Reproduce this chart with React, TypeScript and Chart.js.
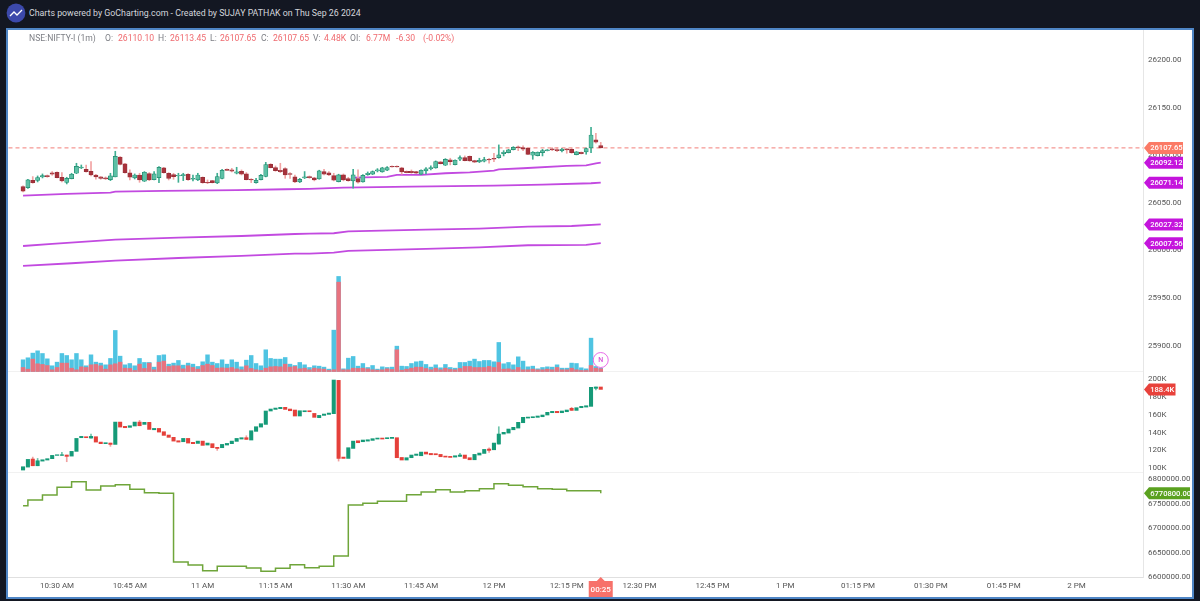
import React, { useEffect, useRef } from "react";
import { Chart, registerables } from "chart.js";

Chart.register(...registerables);

const FONT = 'Roboto, sans-serif';
const START_MINUTE = 623; // 10:23, one candle per minute

const opens = [
  26067.0,26066.0,26073.6,26073.6,26077.2,26078.6,26081.4,26082.1,26076.8,26071.5,
  26075.4,26081.0,26086.6,26085.2,26083.1,26079.2,26077.2,26076.1,26074.4,26077.2,
  26098.1,26090.8,26081.4,26076.1,26079.2,26072.6,26080.6,26074.4,26076.4,26086.6,
  26081.0,26079.6,26078.2,26078.6,26080.0,26074.7,26074.0,26076.8,26071.5,26073.3,
  26070.8,26075.7,26085.2,26084.5,26081.0,26083.1,26080.3,26074.7,26071.2,26074.4,
  26077.8,26090.4,26086.9,26084.1,26085.9,26080.6,26077.2,26071.9,26076.1,26077.5,
  26076.1,26075.1,26082.8,26081.4,26078.6,26072.3,26079.3,26075.4,26073.0,26075.4,
  26071.9,26079.6,26080.0,26083.5,26082.4,26084.2,26088.4,26088.4,26086.6,26083.1,
  26083.1,26082.8,26080.0,26083.5,26085.9,26086.6,26092.9,26089.4,26095.0,26090.1,
  26095.7,26097.5,26098.9,26094.3,26092.9,26093.6,26095.7,26096.8,26097.5,26101.7,
  26102.7,26105.9,26108.7,26107.9,26107.2,26099.9,26099.6,26102.7,26104.8,26106.6,
  26105.9,26104.8,26106.6,26106.2,26100.6,26103.1,26103.4,26107.6,26116.0,26110.1,
];
const highs = [
  26067.7,26074.7,26077.5,26078.2,26080.3,26079.2,26082.8,26082.4,26081.7,26076.8,
  26081.0,26091.5,26089.7,26089.7,26093.2,26079.9,26077.5,26077.2,26081.0,26104.1,
  26098.5,26091.5,26084.5,26080.3,26081.0,26082.8,26081.7,26082.8,26088.0,26087.3,
  26081.7,26081.0,26081.0,26081.0,26080.6,26079.2,26081.0,26077.2,26074.0,26073.6,
  26081.0,26085.2,26085.6,26086.2,26087.3,26084.5,26081.7,26075.4,26075.7,26080.0,
  26092.5,26091.1,26088.7,26091.5,26086.9,26081.7,26079.2,26075.7,26082.8,26078.2,
  26076.8,26084.2,26085.2,26082.8,26081.0,26080.0,26080.3,26076.8,26085.2,26084.5,
  26079.6,26082.4,26083.5,26085.9,26087.3,26088.0,26088.7,26088.7,26087.3,26083.5,
  26084.5,26083.1,26084.5,26087.0,26088.7,26094.0,26093.3,26096.4,26096.8,26095.0,
  26099.2,26099.2,26099.2,26094.7,26096.8,26097.8,26096.8,26102.0,26110.8,26104.8,
  26106.2,26109.0,26109.7,26109.7,26107.6,26103.8,26103.4,26106.2,26105.9,26107.9,
  26108.3,26107.2,26106.9,26107.2,26103.8,26103.4,26107.6,26129.3,26123.0,26113.45,
];
const lows = [
  26061.4,26065.2,26070.5,26071.9,26076.1,26076.8,26078.9,26076.1,26071.9,26069.8,
  26075.1,26080.6,26085.9,26082.1,26078.2,26074.7,26074.7,26074.4,26073.3,26077.2,
  26089.7,26081.0,26074.0,26075.0,26071.5,26072.3,26073.3,26074.0,26071.2,26081.0,
  26074.0,26074.7,26071.5,26073.3,26073.6,26072.9,26073.3,26070.5,26070.1,26070.8,
  26070.1,26075.0,26083.8,26082.4,26080.3,26079.2,26074.0,26071.2,26070.5,26074.0,
  26077.2,26086.6,26083.1,26081.7,26075.7,26075.7,26071.2,26071.2,26075.4,26075.7,
  26073.0,26074.7,26079.3,26078.6,26073.0,26071.9,26073.0,26072.6,26065.3,26070.5,
  26071.6,26078.9,26079.6,26082.4,26082.1,26083.8,26087.3,26087.3,26080.0,26081.4,
  26081.0,26080.7,26079.6,26080.3,26084.5,26086.3,26090.8,26089.1,26089.8,26089.8,
  26094.3,26094.0,26093.6,26092.2,26092.2,26092.9,26091.5,26093.3,26096.8,26099.2,
  26102.4,26105.5,26104.8,26104.8,26100.6,26095.7,26099.2,26099.2,26104.5,26104.8,
  26103.8,26103.4,26102.0,26102.0,26100.3,26101.3,26101.0,26102.7,26112.5,26107.65,
];
const closes = [
  26062.1,26074.0,26071.2,26076.4,26078.6,26077.5,26080.0,26076.4,26072.9,26075.7,
  26080.0,26088.3,26087.6,26082.8,26079.2,26077.2,26075.7,26075.0,26078.2,26098.8,
  26090.4,26081.7,26076.8,26079.2,26074.0,26082.1,26074.0,26080.3,26087.3,26081.7,
  26075.7,26077.5,26078.9,26079.6,26074.4,26075.7,26079.2,26071.2,26070.8,26071.2,
  26077.5,26084.1,26084.1,26083.1,26082.4,26080.0,26074.4,26074.0,26073.6,26078.9,
  26090.1,26086.9,26083.8,26082.8,26079.2,26079.9,26071.9,26074.7,26077.2,26076.4,
  26074.0,26083.5,26080.0,26079.3,26073.7,26079.3,26074.0,26073.3,26079.3,26071.6,
  26078.9,26081.0,26082.8,26084.5,26086.6,26087.0,26087.7,26087.7,26082.4,26081.7,
  26081.7,26081.0,26084.2,26085.6,26087.0,26093.3,26091.2,26095.7,26093.3,26094.7,
  26097.5,26094.3,26094.0,26092.6,26094.7,26095.4,26095.0,26095.7,26100.3,26103.1,
  26105.5,26108.3,26107.9,26106.2,26100.9,26103.1,26103.1,26104.8,26105.5,26105.5,
  26104.8,26106.2,26105.5,26102.7,26103.4,26101.7,26106.9,26121.2,26113.6,26107.65,
];

const volumeTotal = [
  15.8,18.5,24.8,27.9,24.3,17.1,7.7,12.6,24.3,21.6,15.8,24.3,15.8,7.7,22.5,12.6,11.3,9.0,17.6,55.4,
  20.7,9.0,10.8,7.7,17.6,12.2,12.2,5.9,21.6,22.5,9.9,11.3,14.9,8.6,11.3,9.9,6.8,13.1,22.5,12.6,
  10.8,15.8,9.9,15.8,12.6,6.3,15.3,21.6,10.8,7.7,29.3,17.6,16.7,16.7,18.9,9.9,8.1,12.2,9.0,5.4,
  7.7,7.2,5.9,3.2,55.8,128.3,3.6,18.0,20.3,7.2,10.8,5.4,8.1,3.2,6.3,5.4,5.9,34.2,7.2,6.8,
  10.8,13.1,14.0,9.5,5.9,9.0,5.0,9.5,5.4,4.5,12.2,12.2,14.0,16.7,13.5,14.9,14.9,13.1,39.2,10.4,
  12.2,9.0,19.8,14.0,6.3,7.2,3.6,5.4,6.3,5.9,9.0,4.5,4.5,11.3,10.8,5.0,3.6,45.0,6.8,4.48,
];
const volumeRed = [
  5.4,3.2,16.7,10.4,9.5,8.1,2.3,5.4,11.3,11.3,4.5,2.3,6.3,5.4,9.0,9.5,7.7,3.2,9.0,10.4,
  12.6,4.5,4.1,1.4,9.9,4.1,11.3,2.3,12.6,14.0,6.8,7.7,7.7,3.6,7.7,5.4,3.2,8.1,9.9,8.1,
  4.5,5.0,4.5,5.4,3.6,2.3,7.7,4.1,2.3,1.4,4.5,6.3,6.8,6.3,9.9,5.9,6.8,3.6,4.5,2.3,
  4.5,3.6,3.2,1.4,2.3,120.6,2.3,2.3,4.5,4.1,4.5,3.6,2.3,1.8,2.3,3.6,2.7,29.3,1.8,3.2,
  4.5,5.9,5.9,4.1,2.3,4.5,2.3,4.5,2.7,2.3,4.1,6.8,6.8,5.4,5.4,5.4,6.8,5.4,12.2,3.2,
  3.6,2.3,5.4,2.3,2.3,3.2,2.3,2.3,3.2,2.3,5.4,2.3,2.3,4.5,2.3,1.4,1.4,8.1,4.5,3.6,
];

const deltaOpens = [
  98.1,101.4,110.4,102.9,108.1,109.3,110.8,114.5,114.5,114.9,113.7,119.0,134.3,135.4,133.9,135.4,129.4,127.6,128.3,126.8,
  151.8,147.0,145.9,147.4,151.8,149.2,151.5,143.2,144.7,141.0,137.3,134.7,130.9,129.8,133.5,129.1,127.9,130.5,126.1,127.6,
  123.5,123.1,126.1,127.6,130.2,132.8,134.3,131.7,141.4,146.2,149.2,164.2,166.0,166.8,168.3,166.4,165.3,158.6,163.4,164.5,
  161.5,156.7,159.3,160.4,161.2,198.5,112.6,111.1,122.3,130.9,129.8,130.5,131.3,132.8,133.9,133.2,133.5,134.3,112.2,109.3,
  111.9,114.5,114.1,118.2,116.7,116.4,115.6,113.7,113.4,112.6,113.4,114.9,111.9,109.6,114.9,116.7,121.6,120.8,127.2,138.4,
  139.5,143.2,145.1,151.1,156.3,156.7,157.1,157.8,159.7,162.3,163.8,162.3,163.4,167.2,164.9,167.9,168.6,169.4,189.6,191.1,
];
const deltaCloses = [
  101.8,110.0,102.9,108.5,109.6,110.8,114.5,115.2,115.2,113.4,119.0,133.5,135.8,134.3,135.8,129.4,127.6,128.7,126.8,151.8,
  146.2,145.5,147.7,151.8,147.7,151.5,143.6,144.7,140.6,136.9,134.7,130.5,129.4,133.5,128.3,127.6,130.5,125.7,128.3,123.1,
  122.3,126.8,127.9,130.5,133.5,134.3,132.4,142.1,146.6,150.0,164.2,166.4,167.5,168.3,166.0,164.5,158.6,164.5,164.5,163.4,
  157.1,159.3,160.8,161.9,198.9,111.1,111.1,123.1,130.5,128.7,131.7,132.0,133.2,133.9,132.8,134.3,134.7,111.9,109.3,111.9,
  114.9,116.0,118.2,116.0,115.2,115.2,113.0,112.6,112.2,114.1,114.9,111.1,109.6,115.6,117.1,121.2,120.1,128.3,138.4,140.3,
  144.0,145.9,151.5,157.1,157.4,157.8,158.6,159.7,162.7,163.8,162.3,164.2,165.3,164.9,167.9,169.4,170.1,190.7,191.1,188.4,
];
// visible wicks only: [candle index, low, high]
const deltaWicks = [
  [2,102.9,112.6],[3,102.9,111.1],[8,114.5,117.8],[9,107.4,114.9],[14,133.9,138.4],[18,124.6,128.3],
  [24,147.7,153.7],[40,120.1,123.5],[46,132.4,136.5],[65,108.1,198.5],[90,113.4,116.7],[96,117.8,123.1],
  [98,127.2,146.6],[113,164.9,168.3],[118,187.7,191.1],
];

const oiStepIndex = [0,1,4,7,10,13,16,19,22,25,28,31,34,37,40,46,49,52,55,58,61,64,67,70,73,79,82,85,88,91,94,97,100,103,106,109,112,119];
const oiStepValues = [
  6745600,6757150,6767350,6783000,6794550,6777550,6785700,6788450,6778900,6772100,6770750,6630600,6624500,6612900,
  6621800,6618350,6611550,6617700,6625150,6619050,6621800,6642850,6746950,6750350,6754400,6768000,6773450,6778200,
  6773450,6776200,6780250,6790500,6787100,6784350,6780250,6778900,6776200,6770800,
];

const ma1Index = [68,75,77,82,87,92,97,98,103,112,116,118,119];
const ma1Values = [26076.5,26077.2,26079.3,26079.3,26081.0,26082.0,26083.8,26085.2,26086.3,26088.7,26089.4,26091.5,26092.12];
const ma2Index = [0,9,18,19,29,44,54,59,66,80,97,107,117,119];
const ma2Values = [26057.5,26059.3,26060.7,26061.7,26062.5,26063.2,26064.2,26064.7,26065.9,26067.0,26068.1,26069.1,26070.5,26071.14];
const ma3Index = [0,6,19,32,45,56,59,64,67,83,94,104,113,119];
const ma3Values = [26004.6,26006.8,26011.3,26013.4,26015.1,26017.2,26017.6,26018.0,26020.0,26021.8,26022.9,26025.0,26025.6,26027.32];
const ma4Index = [0,10,19,32,45,56,59,64,67,83,94,104,116,119];
const ma4Values = [25983.7,25986.5,25989.2,25992.0,25994.2,25996.6,25996.6,25997.7,25999.4,26001.5,26003.2,26005.4,26005.7,26007.56];

const xTickMinutes = [630,645,660,675,690,705,720,735,750,765,780,795,810,825,840];
const xTickLabels = ["10:30 AM","10:45 AM","11 AM","11:15 AM","11:30 AM","11:45 AM","12 PM","12:15 PM","12:30 PM","12:45 PM","1 PM","01:15 PM","01:30 PM","01:45 PM","2 PM"];
const priceTicks = [26200,26150,26100,26050,26000,25950,25900];
const deltaTicks = [200,180,160,140,120,100];
const oiTicks = [6800000,6750000,6700000,6650000,6600000];

const LAST_PRICE = 26107.65;
const COUNTDOWN = "00:25";
const priceTags: [number, string][] = [
  [26092.12, "#c414dc"], [26071.14, "#c414dc"], [26027.32, "#c414dc"], [26007.56, "#c414dc"],
];
const LAST_DELTA = 188.4;
const LAST_OI = 6770800;
const NEWS_MARKER_VOLUME = 15.5;

const quoteParts: [string, boolean, number][] = [
  ["NSE:NIFTY-I (1m)", false, 29], ["O:", false, 105], ["26110.10", true, 118],
  ["H:", false, 158], ["26113.45", true, 170], ["L:", false, 210], ["26107.65", true, 220],
  ["C:", false, 261], ["26107.65", true, 273], ["V:", false, 313], ["4.48K", true, 324],
  ["OI:", false, 350], ["6.77M", true, 366], ["-6.30", true, 396], ["(-0.02%)", true, 423],
];

const minuteOf = (i: number) => START_MINUTE + i;
const UP_BODY = "#5cc0a5", UP_EDGE = "#1f8a6e", DOWN_BODY = "#a8323b", DOWN_EDGE = "#96303a";
const UP_WICK = "#3fae92", DOWN_WICK = "#f2a3a3";
const MA_COLOR = "#c24ae0";

function tag(ctx: CanvasRenderingContext2D, tipX: number, y: number, w: number, color: string, text: string) {
  const h = 12, arrow = 5;
  ctx.fillStyle = color;
  ctx.beginPath();
  ctx.moveTo(tipX, y);
  ctx.lineTo(tipX + arrow, y - h / 2);
  ctx.lineTo(tipX + arrow + w, y - h / 2);
  ctx.lineTo(tipX + arrow + w, y + h / 2);
  ctx.lineTo(tipX + arrow, y + h / 2);
  ctx.closePath();
  ctx.fill();
  ctx.fillStyle = "#ffffff";
  ctx.textAlign = "left";
  ctx.textBaseline = "middle";
  ctx.font = `500 7.6px ${FONT}`;
  ctx.fillText(text, tipX + arrow + 1.2, y + 0.5);
}

const overlayPlugin = {
  id: "overlay",
  beforeDatasetsDraw(chart: any) {
    const { ctx, chartArea: a, scales: s } = chart;
    ctx.save();
    ctx.strokeStyle = "#f1f1f1";
    ctx.lineWidth = 1;
    [s.yPrice.bottom, s.yDelta.bottom].forEach((y: number) => {
      ctx.beginPath();
      ctx.moveTo(a.left, Math.round(y) + 0.5);
      ctx.lineTo(a.right, Math.round(y) + 0.5);
      ctx.stroke();
    });
    ctx.restore();
  },
  afterDraw(chart: any) {
    const { ctx, scales: s } = chart;
    const tip = s.yPrice.left + 1;
    ctx.save();
    tag(ctx, tip, s.yPrice.getPixelForValue(LAST_PRICE), 34, "#fb7a66", LAST_PRICE.toFixed(2));
    priceTags.forEach(([v, c]) => tag(ctx, tip, s.yPrice.getPixelForValue(v), 34, c, v.toFixed(2)));
    tag(ctx, tip, s.yDelta.getPixelForValue(LAST_DELTA), 26.5, "#e8413b", LAST_DELTA.toFixed(1) + "K");
    tag(ctx, tip, s.yOi.getPixelForValue(LAST_OI), 41, "#5aa11f", LAST_OI.toFixed(2));

    // news marker
    const lastX = s.x.getPixelForValue(minuteOf(closes.length - 1));
    const ny = s.yVolume.getPixelForValue(NEWS_MARKER_VOLUME);
    ctx.beginPath();
    ctx.arc(lastX, ny, 7.5, 0, Math.PI * 2);
    ctx.fillStyle = "rgba(255,255,255,0.9)";
    ctx.fill();
    ctx.strokeStyle = "#e86be8";
    ctx.lineWidth = 1;
    ctx.stroke();
    ctx.fillStyle = "#d84fd8";
    ctx.font = `500 7px ${FONT}`;
    ctx.textAlign = "center";
    ctx.textBaseline = "middle";
    ctx.fillText("N", lastX, ny + 0.5);

    // countdown box under the last candle
    const top = s.x.top;
    ctx.fillStyle = "#f7716a";
    ctx.beginPath();
    ctx.moveTo(lastX, top);
    ctx.lineTo(lastX + 4, top + 4);
    ctx.lineTo(lastX + 12, top + 4);
    ctx.lineTo(lastX + 12, top + 20);
    ctx.lineTo(lastX - 12, top + 20);
    ctx.lineTo(lastX - 12, top + 4);
    ctx.lineTo(lastX - 4, top + 4);
    ctx.closePath();
    ctx.fill();
    ctx.fillStyle = "#ffffff";
    ctx.font = `500 8px ${FONT}`;
    ctx.fillText(COUNTDOWN, lastX, top + 12.5);
    ctx.restore();
  },
};

const xy = (idx: number[], vals: number[]) => idx.map((i, k) => ({ x: minuteOf(i), y: vals[k] }));

export default function App() {
  const ref = useRef<HTMLCanvasElement>(null);

  useEffect(() => {
    document.body.style.margin = "0";
    const isUp = closes.map((c, i) => c >= opens[i]);
    const deltaUp = deltaCloses.map((c, i) => c >= deltaOpens[i]);
    const maLine = (idx: number[], vals: number[]) => ({
      type: "line" as const, data: xy(idx, vals), yAxisID: "yPrice", xAxisID: "x",
      borderColor: MA_COLOR, borderWidth: 1.8, pointRadius: 0, tension: 0, order: 80,
    });
    const yFont = { family: FONT, size: 8 };
    const yScale = (weight: number, min: number, max: number, values: number[], fmt: (v: number) => string) => ({
      type: "linear" as const, axis: "y", position: "right" as const, min, max,
      stack: "panes", stackWeight: weight,
      grid: { display: false, drawTicks: false, tickLength: 0 },
      border: { display: true, color: "#e6e6e6" },
      afterBuildTicks: (axis: any) => { axis.ticks = values.map((value) => ({ value })); },
      afterFit: (axis: any) => {
        axis.width = 49;
        axis.paddingTop = 0;
        axis.paddingBottom = 0;
      },
      ticks: { autoSkip: false, font: yFont, color: "#555", padding: 5, callback: (v: any) => fmt(Number(v)) },
    });

    const chart = new Chart(ref.current as HTMLCanvasElement, {
      type: "bar",
      data: {
        datasets: [
          {
            data: opens.map((o, i) => ({ x: minuteOf(i), y: [o, closes[i]] })), yAxisID: "yPrice", xAxisID: "x",
            backgroundColor: isUp.map((u) => (u ? UP_BODY : DOWN_BODY)),
            borderColor: isUp.map((u) => (u ? UP_EDGE : DOWN_EDGE)),
            borderWidth: 0.7, borderSkipped: false, barThickness: 4.2, grouped: false, order: 40,
          },
          {
            data: lows.map((l, i) => ({ x: minuteOf(i), y: [l, highs[i]] })), yAxisID: "yPrice", xAxisID: "x",
            backgroundColor: isUp.map((u) => (u ? UP_WICK : DOWN_WICK)),
            barThickness: 1, grouped: false, order: 50,
          },
          maLine(ma1Index, ma1Values),
          maLine(ma2Index, ma2Values),
          maLine(ma3Index, ma3Values),
          maLine(ma4Index, ma4Values),
          {
            type: "line", data: [{ x: 620, y: LAST_PRICE }, { x: 854, y: LAST_PRICE }], yAxisID: "yPrice", xAxisID: "x",
            borderColor: "#f27d78", borderWidth: 1, borderDash: [4, 3], pointRadius: 0, order: 85,
          },
          {
            data: volumeRed.map((v, i) => ({ x: minuteOf(i), y: v })), yAxisID: "yVolume", xAxisID: "x",
            backgroundColor: "#e8737f", barThickness: 3.8, grouped: false, order: 90,
          },
          {
            data: volumeTotal.map((v, i) => ({ x: minuteOf(i), y: v })), yAxisID: "yVolume", xAxisID: "x",
            backgroundColor: "#4fc4e2", barThickness: 3.8, grouped: false, order: 95,
          },
          {
            data: deltaOpens.map((o, i) => ({ x: minuteOf(i), y: [o, deltaCloses[i]] })), yAxisID: "yDelta", xAxisID: "x",
            backgroundColor: deltaUp.map((u) => (u ? "#159a78" : "#e5403a")),
            barThickness: 3.4, grouped: false, order: 40,
          },
          {
            data: deltaWicks.map(([i, l, h]) => ({ x: minuteOf(i), y: [l, h] })), yAxisID: "yDelta", xAxisID: "x",
            backgroundColor: deltaWicks.map(([i]) => (deltaUp[i] ? "#6fc4ab" : "#f0a0a0")),
            barThickness: 1, grouped: false, order: 50,
          },
          {
            type: "line", data: xy(oiStepIndex, oiStepValues), yAxisID: "yOi", xAxisID: "x",
            borderColor: "#6fa53a", borderWidth: 1.5, pointRadius: 0, stepped: "before", order: 60,
          },
        ] as any,
      },
      options: {
        responsive: false,
        animation: false,
        layout: { padding: 0, autoPadding: false },
        plugins: { legend: { display: false }, tooltip: { enabled: false } },
        scales: {
          x: {
            type: "linear", position: "bottom", min: 619.9, max: 853.7, offset: false,
            grid: { display: false, offset: false, drawTicks: false, tickLength: 0 },
            border: { display: true, color: "#e0e0e0" },
            afterBuildTicks: (axis: any) => { axis.ticks = xTickMinutes.map((value) => ({ value })); },
            afterFit: (axis: any) => {
              axis.height = 20;
              axis.paddingLeft = 0;
              axis.paddingRight = 0;
            },
            ticks: {
              autoSkip: false, maxRotation: 0, font: yFont, color: "#555", padding: 4,
              callback: (v: any) => xTickLabels[xTickMinutes.indexOf(Number(v))],
            },
          },
          yPrice: yScale(341, 25873.3, 26231.5, priceTicks, (v) => v.toFixed(2)),
          yDelta: yScale(101, 95.9, 209, deltaTicks, (v) => v + "K"),
          yOi: yScale(105, 6600000, 6814286, oiTicks, (v) => v.toFixed(2)),
          yVolume: { type: "linear", axis: "y", position: "left", display: false, min: -277.4, max: 461 },
        } as any,
      },
      plugins: [overlayPlugin as any],
    });
    return () => chart.destroy();
  }, []);

  return (
    <div style={{ position: "fixed", inset: 0, background: "#131722", overflow: "hidden", fontFamily: FONT }}>
      <svg width="20" height="20" style={{ position: "absolute", left: 6, top: 3 }}>
        <circle cx="10" cy="10" r="9.4" fill="#3c49ab" />
        <polyline points="4,13 8,9 11,12 16,7" fill="none" stroke="#fff" strokeWidth="1.3" />
      </svg>
      <div style={{ position: "absolute", left: 29, top: 5, fontSize: 8.8, lineHeight: "16px", color: "#d4d6dc", whiteSpace: "nowrap" }}>
        Charts powered by GoCharting.com - Created by SUJAY PATHAK on Thu Sep 26 2024
      </div>
      <div style={{ position: "absolute", left: 6, top: 28, width: 1188, height: 571, boxSizing: "border-box", border: "2px solid #4f86c6", background: "#fff" }}>
        <canvas ref={ref} width={1184} height={567} style={{ display: "block" }} />
        {quoteParts.map(([text, isValue, x], k) => (
          <span key={k} style={{ position: "absolute", left: x - 8, top: 1, fontSize: 8.6, lineHeight: "14px", whiteSpace: "pre", color: isValue ? "#ef6a6f" : "#7d7f85" }}>{text}</span>
        ))}
      </div>
    </div>
  );
}
